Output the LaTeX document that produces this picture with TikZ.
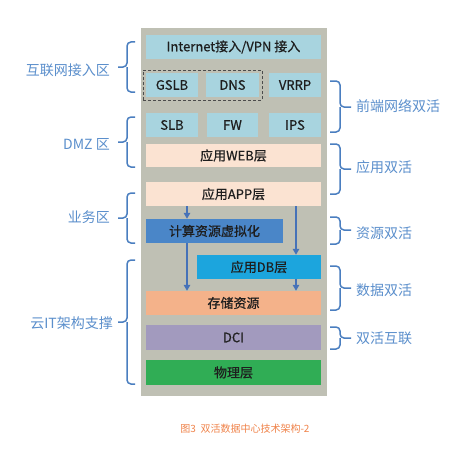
\documentclass[tikz,border=0pt]{standalone}
\usepackage{fontspec}
\setmainfont{Noto Sans CJK SC}
\newfontfamily\boxfont[FakeBold=0.7]{Noto Sans CJK SC}
\usetikzlibrary{arrows.meta}
\definecolor{panelc}{HTML}{BFC0B4}
\definecolor{netc}{HTML}{A8D4DF}
\definecolor{peachc}{HTML}{FBE3D2}
\definecolor{compc}{HTML}{4A86C8}
\definecolor{dbc}{HTML}{1CA5DD}
\definecolor{storc}{HTML}{F4B28A}
\definecolor{dcic}{HTML}{A29ABE}
\definecolor{physc}{HTML}{30AD55}
\definecolor{arrc}{HTML}{4672B8}
\definecolor{bracec}{HTML}{4A7EC0}
\definecolor{labc}{HTML}{5B8FCC}
\definecolor{capc}{HTML}{F0834A}
\definecolor{txtc}{HTML}{1E1E1E}
\newcommand\mybrL[3]{\draw[bracestyle] (135,#1) -- (127,#1) -- (127,#2) -- (118,#2); \draw[bracestyle] (127,#2) -- (127,#3) -- (135,#3);}
\newcommand\mybrR[3]{\draw[bracestyle] (330,#1) -- (340,#1) -- (340,#2) -- (351,#2); \draw[bracestyle] (340,#2) -- (340,#3) -- (330,#3);}
\tikzset{
  layer/.style={inner sep=0pt, minimum height=24pt, text=txtc, font=\boxfont\fontsize{13}{13}\selectfont},
  lab/.style={inner sep=0pt, text=labc, font=\fontsize{14}{14}\selectfont},
  arr/.style={draw=arrc, line width=1.6pt, -{Triangle[length=6pt,width=6.5pt]}},
  bracestyle/.style={draw=bracec, line width=1.5pt, rounded corners=4pt},
}
\begin{document}
\begin{tikzpicture}[x=1pt,y=-1pt]
\useasboundingbox (0,0) rectangle (465,452);
\fill[white] (0,0) rectangle (465,452);
\node[inner sep=0pt, fill=panelc, minimum width=186pt, minimum height=368pt] (panel) at (234,212) {};
\node[layer, fill=netc, minimum width=175pt] (inet) at (233.5,47) {Internet接入/VPN 接入};
\node[layer, fill=netc, minimum width=52pt] (gslb) at (172,85) {GSLB};
\node[layer, fill=netc, minimum width=53pt] (dns) at (232.5,85) {DNS};
\node[layer, fill=netc, minimum width=52pt] (vrrp) at (295,85) {VRRP};
\node[inner sep=0pt, draw=black!70, line width=1pt, dash pattern=on 3pt off 2pt, minimum width=119pt, minimum height=30pt] (dashbox) at (202.5,85) {};
\node[layer, fill=netc, minimum width=52pt] (slb) at (172,125) {SLB};
\node[layer, fill=netc, minimum width=51pt] (fw) at (232.5,125) {FW};
\node[layer, fill=netc, minimum width=52pt] (ips) at (295,125) {IPS};
\node[layer, fill=peachc, minimum width=175pt, minimum height=23pt] (web) at (233.5,155.5) {应用WEB层};
\node[layer, fill=peachc, minimum width=175pt] (app) at (233.5,194) {应用APP层};
\node[layer, fill=compc, minimum width=137pt] (comp) at (214.5,231) {计算资源虚拟化};
\node[layer, fill=dbc, minimum width=124pt] (db) at (259,267) {应用DB层};
\node[layer, fill=storc, minimum width=175pt] (stor) at (233.5,303) {存储资源};
\node[layer, fill=dcic, minimum width=175pt, minimum height=25pt] (dci) at (233.5,337.5) {DCI};
\node[layer, fill=physc, minimum width=175pt, minimum height=25pt] (phys) at (233.5,372.5) {物理层};
\coordinate (ax1) at (187,0);
\coordinate (ax2) at (296,0);
\draw[arr] (app.south -| ax1) -- (comp.north -| ax1);
\draw[arr] (app.south -| ax2) -- (db.north -| ax2);
\draw[arr] (comp.south -| ax1) -- (stor.north -| ax1);
\draw[arr] (db.south -| ax2) -- (stor.north -| ax2);
\mybrL{42}{67}{92}
\mybrL{117}{142}{167}
\mybrL{193}{218}{243}
\mybrL{260}{322}{384}
\mybrR{81}{107}{132}
\mybrR{144}{169}{194}
\mybrR{217}{230}{244}
\mybrR{266}{288}{310}
\mybrR{327}{338}{349}
\node[lab, anchor=east] (l1) at (110,70) {互联网接入区};
\node[lab, anchor=east] (l2) at (110,144) {DMZ 区};
\node[lab, anchor=east] (l3) at (110,217) {业务区};
\node[lab, anchor=east] (l4) at (113,323) {云IT架构支撑};
\node[lab, anchor=west] (r1) at (356,106) {前端网络双活};
\node[lab, anchor=west] (r2) at (356,167) {应用双活};
\node[lab, anchor=west] (r3) at (356,233) {资源双活};
\node[lab, anchor=west] (r4) at (356,290) {数据双活};
\node[lab, anchor=west] (r5) at (356,338) {双活互联};
\node[inner sep=0pt, text=capc, font=\fontsize{10}{10}\selectfont] (cap) at (245,429) {图3\ \ 双活数据中心技术架构-2};
\end{tikzpicture}
\end{document}
